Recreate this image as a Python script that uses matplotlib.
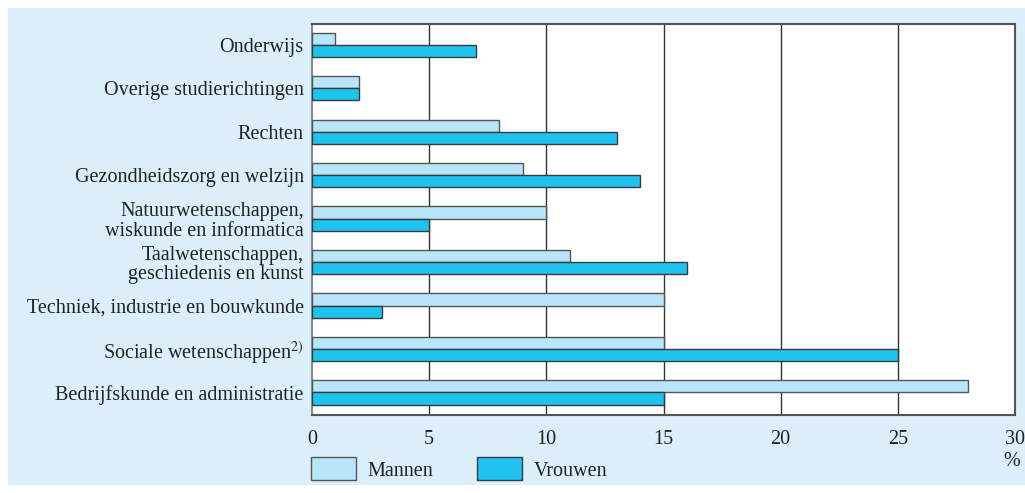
import matplotlib.pyplot as plt
from matplotlib.patches import Rectangle
import numpy as np

plt.rcParams['font.family'] = ['Liberation Serif', 'DejaVu Serif']
plt.rcParams['mathtext.fontset'] = 'stix'

categories = ["Onderwijs", "Overige studierichtingen", "Rechten",
              "Gezondheidszorg en welzijn",
              "Natuurwetenschappen,\nwiskunde en informatica",
              "Taalwetenschappen,\ngeschiedenis en kunst",
              "Techniek, industrie en bouwkunde",
              "Sociale wetenschappen$^{2)}$",
              "Bedrijfskunde en administratie"]
mannen = [1, 2, 8, 9, 10, 11, 15, 15, 28]
vrouwen = [7, 2, 13, 14, 5, 16, 3, 25, 15]
xticks = [0, 5, 10, 15, 20, 25, 30]

bg = "#daeffa"
light = "#b9e5f8"
dark = "#1ec3f0"
edge = "#3a3a3a"
fs = 14.5

fig = plt.figure(figsize=(10.25, 4.93), dpi=100)
fig.patches.append(Rectangle((8 / 1025, 8 / 493), 1 - 8 / 1025, 1 - 16 / 493,
                             transform=fig.transFigure, facecolor=bg,
                             edgecolor="none", zorder=-10))

ax = fig.add_axes([312 / 1025, 1 - 415 / 493, 703 / 1025, 391 / 493])
y = np.arange(len(categories))
h = 0.28
ax.barh(y - h / 2, mannen, height=h, color=light, edgecolor="#555555",
        linewidth=1, label="Mannen", zorder=3)
ax.barh(y + h / 2, vrouwen, height=h, color=dark, edgecolor=edge,
        linewidth=1, label="Vrouwen", zorder=3)

ax.set_xlim(0, 30)
ax.set_ylim(len(categories) - 0.48, -0.48)
ax.set_xticks(xticks)
ax.set_yticks(y)
ax.set_yticklabels(categories, fontsize=fs, color="#222222", linespacing=1.05)
ax.tick_params(axis="both", length=0, colors="#222222", labelsize=fs)
ax.tick_params(axis="x", pad=11)
ax.tick_params(axis="y", pad=6)
for t in xticks[1:-1]:
    ax.axvline(t, color="#333333", linewidth=1, zorder=1)
for s in ["top", "right", "bottom"]:
    ax.spines[s].set_color("#555555")
    ax.spines[s].set_linewidth(1.5)
ax.spines["left"].set_color("#888888")
ax.spines["left"].set_linewidth(1.5)

ax.text(0.996, -0.095, "%", transform=ax.transAxes, ha="center", va="top",
        fontsize=fs, color="#222222")

ax.legend(loc="upper left", bbox_to_anchor=(-0.002, -0.108), ncol=2,
          frameon=False, fontsize=fs, handlelength=2.25, handleheight=1.4,
          handletextpad=0.55, columnspacing=2.2, borderaxespad=0,
          borderpad=0, labelcolor="#222222")

fig.savefig("out.png", dpi=100)
